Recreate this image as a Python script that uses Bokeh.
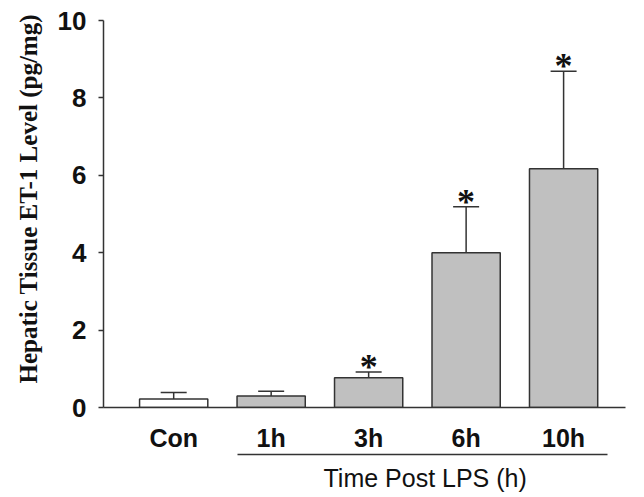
from bokeh.plotting import figure
from bokeh.models import (ColumnDataSource, FixedTicker, LinearAxis, Range1d,
                          Whisker, TeeHead, Title)
from bokeh.core.properties import value
from bokeh.embed import file_html
from bokeh.resources import INLINE

# ---- data ----
categories = ["Con", "1h", "3h", "6h", "10h"]
means = [0.22, 0.30, 0.77, 4.00, 6.17]
sem = [0.17, 0.12, 0.15, 1.19, 2.52]
significant = [False, False, True, True, True]
bar_colors = ["#ffffff", "#c0c0c0", "#c0c0c0", "#c0c0c0", "#c0c0c0"]
y_ticks = [0, 2, 4, 6, 8, 10]
y_label = "Hepatic Tissue ET-1 Level (pg/mg)"
group_label = "Time Post LPS (h)"

xs = list(range(len(categories)))
upper = [m + s for m, s in zip(means, sem)]
bar_w = 0.7

src = ColumnDataSource(dict(x=xs, top=means, upper=upper, color=bar_colors))
star_src = ColumnDataSource(dict(
    x=[x for x, s in zip(xs, significant) if s],
    y=[u for u, s in zip(upper, significant) if s],
    t=["*" for s in significant if s]))

dark = "#333333"

p = figure(frame_width=522, frame_height=387,
           x_range=Range1d(-0.72, len(categories) - 1 + 0.635),
           y_range=Range1d(0, 10),
           output_backend="svg", toolbar_location=None,
           min_border_left=100, min_border_right=14, min_border_top=20,
           min_border_bottom=0)
p.outline_line_color = None
p.grid.grid_line_color = None
p.background_fill_color = "white"

p.vbar(x="x", top="top", width=bar_w, bottom=0, source=src,
       fill_color="color", line_color=dark, line_width=1.5)

wk = Whisker(base="x", upper="upper", lower="top", source=src,
             dimension="height", line_color=dark, line_width=1.5,
             upper_head=TeeHead(size=26, line_color=dark, line_width=1.5),
             lower_head=None)
p.add_layout(wk)

p.text(x="x", y="y", text="t", source=star_src, text_align="center",
       text_baseline="alphabetic", y_offset=-5,
       text_font=value("Liberation Serif"), text_font_size="36px",
       text_font_style="bold", text_color="#111111")

# y axis
ya = p.yaxis[0]
ya.ticker = FixedTicker(ticks=y_ticks)
ya.minor_tick_line_color = None
ya.major_tick_in = 0
ya.major_tick_out = 5
ya.major_tick_line_color = dark
ya.major_tick_line_width = 1.5
ya.axis_line_color = dark
ya.axis_line_width = 1.5
ya.major_label_text_font = "Liberation Sans"
ya.major_label_text_font_style = "bold"
ya.major_label_text_font_size = "26px"
ya.major_label_text_color = "#111111"
ya.major_label_standoff = 12

# y label as a left title
yt = Title(text=y_label, align="left", offset=24, standoff=25,
           text_font="Liberation Serif", text_font_style="bold",
           text_font_size="25px", text_color="#111111")
p.add_layout(yt, "left")

# x axis with category labels
xa = p.xaxis[0]
xa.ticker = FixedTicker(ticks=xs)
xa.major_label_overrides = {x: c for x, c in zip(xs, categories)}
xa.major_tick_line_color = None
xa.minor_tick_line_color = None
xa.axis_line_color = dark
xa.axis_line_width = 1.5
xa.major_label_text_font = "Liberation Sans"
xa.major_label_text_font_style = "bold"
xa.major_label_text_font_size = "25px"
xa.major_label_text_color = "#111111"
xa.major_label_standoff = 10

# group bracket line (axis limited by bounds)
ga = LinearAxis(ticker=FixedTicker(ticks=[]),
                bounds=(xs[1] - bar_w / 2, xs[-1] + bar_w / 2 + 0.1))
ga.major_tick_line_color = None
ga.minor_tick_line_color = None
ga.axis_line_color = dark
ga.axis_line_width = 1.5
p.add_layout(ga, "below")

# group label as a bottom title, under the bracket
gt = Title(text=group_label, align="left", offset=220, standoff=15,
           text_font="Liberation Sans", text_font_style="normal",
           text_font_size="25px", text_color="#111111")
p.add_layout(gt, "below")

open("out.html", "w").write(file_html(p, INLINE))
